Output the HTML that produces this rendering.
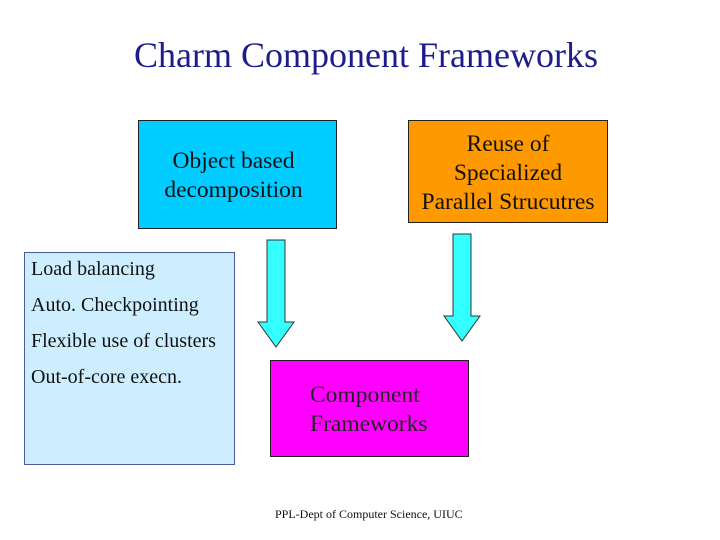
<!DOCTYPE html>
<html><head><style>
body{margin:0;width:720px;height:540px;background:#fff;position:relative;overflow:hidden;font-family:"Liberation Serif",serif;}
.a{position:absolute;box-sizing:border-box;}
.t{position:absolute;white-space:nowrap;}
</style></head><body>
<div class="t" style="left:0;width:732px;top:34px;text-align:center;font-size:36px;color:#1c1c8c;">Charm Component Frameworks</div>
<div class="a" style="left:138px;top:120px;width:199px;height:109px;background:#00ccff;border:1px solid #222;"></div>
<div class="t" style="left:134px;width:199px;top:147px;text-align:center;font-size:23.5px;line-height:29px;color:#111;">Object based<br>decomposition</div>
<div class="a" style="left:408px;top:120px;width:200px;height:103px;background:#ff9900;border:1px solid #222;"></div>
<div class="t" style="left:408px;width:200px;top:130px;text-align:center;font-size:23.5px;line-height:29px;color:#111;">Reuse of<br>Specialized<br>Parallel Strucutres</div>
<div class="a" style="left:24px;top:252px;width:211px;height:213px;background:#cceeff;border:1px solid #4a5a9a;"></div>
<div class="t" style="left:31px;top:251px;font-size:20px;line-height:36px;color:#111;">Load balancing<br>Auto. Checkpointing<br>Flexible use of clusters<br>Out-of-core execn.</div>
<div class="a" style="left:270px;top:360px;width:199px;height:97px;background:#ff00ff;border:1px solid #222;"></div>
<div class="t" style="left:310px;top:381px;font-size:23.5px;line-height:29px;color:#222;">Component<br>Frameworks</div>
<svg class="a" style="left:0;top:0" width="720" height="540">
<polygon points="267,240 285,240 285,322 294,322 276,347 258,322 267,322" fill="#33ffff" stroke="#333" stroke-width="1"/>
<polygon points="453,234 471,234 471,316 480,316 462,341 444,316 453,316" fill="#33ffff" stroke="#333" stroke-width="1"/>
</svg>
<div class="t" style="left:275px;top:507px;font-size:12px;color:#111;">PPL-Dept of Computer Science, UIUC</div>
</body></html>
